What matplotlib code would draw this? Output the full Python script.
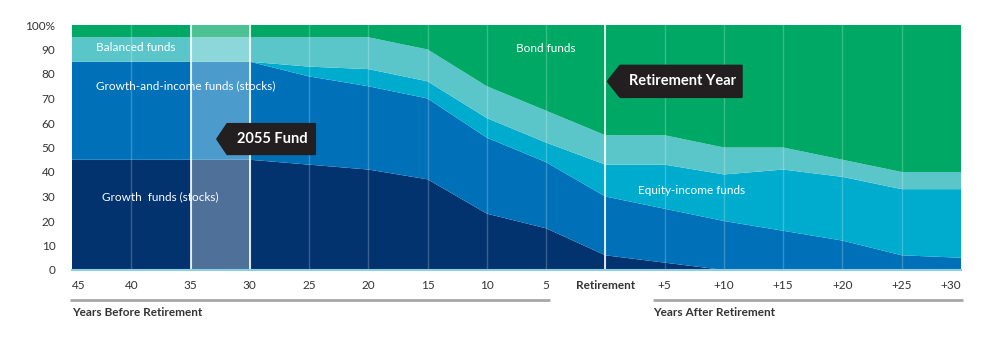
import matplotlib

matplotlib.use("Agg")
import matplotlib.pyplot as plt
from matplotlib.patches import Polygon

plt.rcParams["font.family"] = ["Lato", "DejaVu Sans"]

# years relative to retirement, shown left to right
tick_labels = ["45", "40", "35", "30", "25", "20", "15", "10", "5", "Retirement",
               "+5", "+10", "+15", "+20", "+25", "+30"]
growth = [45, 45, 45, 45, 43, 41, 37, 23, 17, 6, 3, 0, 0, 0, 0, 0]
growth_income = [40, 40, 40, 40, 36, 34, 33, 31, 27, 24, 22, 20, 16, 12, 6, 5]
equity_income = [0, 0, 0, 0, 4, 7, 7, 8, 8, 13, 18, 19, 25, 26, 27, 28]
balanced = [10, 10, 10, 10, 12, 13, 13, 13, 13, 12, 12, 11, 9, 7, 7, 7]
bond = [5, 5, 5, 5, 5, 5, 10, 25, 35, 45, 45, 50, 50, 55, 60, 60]

colors = ["#03336e", "#0070b8", "#00acce", "#5bc6ca", "#00a866"]

x = list(range(len(tick_labels)))
ret_idx = tick_labels.index("Retirement")
fund_start, fund_end = tick_labels.index("35"), tick_labels.index("30")

fig = plt.figure(figsize=(9.96, 3.37), dpi=100)
ax = fig.add_axes([72 / 996, 67 / 337, 889 / 996, 245 / 337])
ax.stackplot(x, growth, growth_income, equity_income, balanced, bond,
             colors=colors, linewidth=0)
ax.set_xlim(0, len(x) - 1)
ax.set_ylim(0, 100)

# faint vertical gridlines
for xi in x[1:-1]:
    ax.axvline(xi, color="white", lw=1, alpha=0.22)
ax.axvline(ret_idx, color="white", lw=1.2)

# 2055 fund highlight band
ax.axvspan(fund_start, fund_end, color="white", alpha=0.3, lw=0)
ax.axvline(fund_start, color="white", lw=1.2)
ax.axvline(fund_end, color="white", lw=1.2)
ax.axhline(0, color="#8fd0e0", lw=1.5, clip_on=False)

for s in ax.spines.values():
    s.set_visible(False)

ax.set_yticks(range(0, 101, 10))
ax.set_yticklabels([str(v) if v < 100 else "100%" for v in range(0, 101, 10)])
ax.set_xticks(x)
ax.set_xticklabels(tick_labels)
ax.tick_params(length=0, labelsize=8.5, colors="#333333")
ax.tick_params(axis="y", pad=12)
ax.tick_params(axis="x", pad=7)
for lbl in ax.get_xticklabels():
    if lbl.get_text() == "Retirement":
        lbl.set_fontweight("bold")
    if lbl.get_text() == "45":
        lbl.set_horizontalalignment("left")
    if lbl.get_text() == "+30":
        lbl.set_horizontalalignment("right")

# layer labels
lab = dict(color="white", fontsize=8.5, va="center")
ax.text(0.4, 91, "Balanced funds", **lab)
ax.text(0.4, 75, "Growth-and-income funds (stocks)", **lab)
ax.text(0.5, 30, "Growth  funds (stocks)", **lab)
ax.text(7.5, 90.5, "Bond funds", **lab)
ax.text(9.55, 32.5, "Equity-income funds", **lab)

# callouts
def callout(x_tip, x_shoulder, x_right, y_lo, y_hi, text):
    y_mid = (y_lo + y_hi) / 2
    pts = [(x_tip, y_mid), (x_shoulder, y_hi), (x_right, y_hi),
           (x_right, y_lo), (x_shoulder, y_lo)]
    ax.add_patch(Polygon(pts, closed=True, facecolor="#231f20",
                         edgecolor="#231f20", lw=1.5, joinstyle="round", zorder=5))
    ax.text((x_shoulder + x_right) / 2 + 0.02, y_mid, text, color="white",
            fontsize=10.5, fontweight="bold", ha="center", va="center", zorder=6)

callout(2.45, 2.62, 4.1, 47.3, 59.6, "2055 Fund")
callout(9.04, 9.25, 11.3, 70.6, 83.4, "Retirement Year")

# bottom brackets
tr = ax.get_xaxis_transform()
ax.plot([-0.03, 8.06], [-0.122, -0.122], transform=tr, color="#a7a7a7",
        lw=2, clip_on=False, solid_capstyle="butt")
ax.plot([9.8, 15.03], [-0.122, -0.122], transform=tr, color="#a7a7a7",
        lw=2, clip_on=False, solid_capstyle="butt")
ax.text(0, -0.175, "Years Before Retirement", transform=tr, fontsize=8.5,
        color="#333333", va="center", ha="left", fontweight="bold")
ax.text(9.8, -0.175, "Years After Retirement", transform=tr, fontsize=8.5,
        color="#333333", va="center", ha="left", fontweight="bold")

fig.savefig("out.png", dpi=100)
